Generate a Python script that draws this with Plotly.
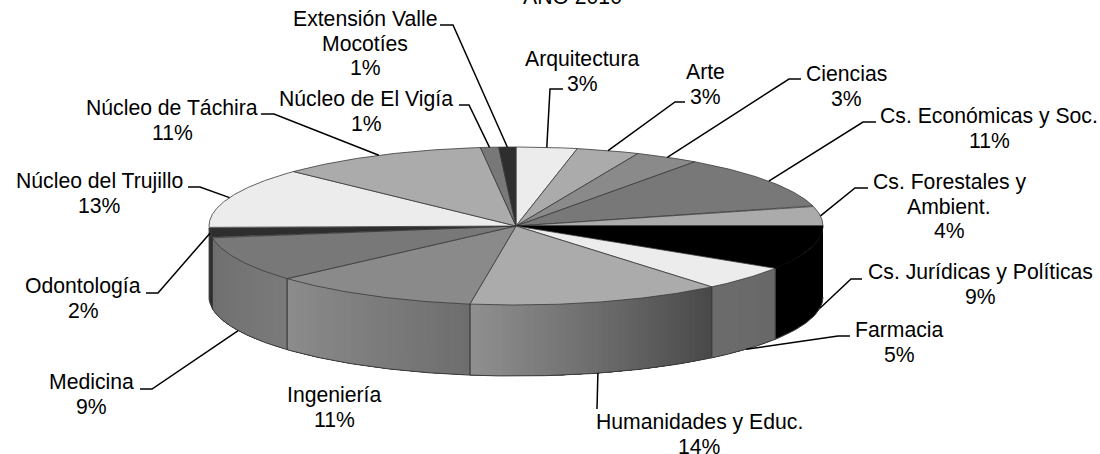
import numpy as np
import plotly.graph_objects as go

# ---- data ----
categories = ["Arquitectura", "Arte", "Ciencias", "Cs. Económicas y Soc.", "Cs. Forestales y Ambient.",
              "Cs. Jurídicas y Políticas", "Farmacia", "Humanidades y Educ.", "Ingeniería", "Medicina",
              "Odontología", "Núcleo del Trujillo", "Núcleo de Táchira", "Núcleo de El Vigía",
              "Extensión Valle Mocotíes"]
values = [3.2, 3.3, 3.4, 11.0, 4.1, 9.0, 5.0, 13.4, 11.0, 9.2, 2.0, 12.5, 11.05, 0.95, 0.9]
percent_labels = ["3%", "3%", "3%", "11%", "4%", "9%", "5%", "14%", "11%", "9%", "2%", "13%", "11%", "1%", "1%"]
label_texts = ["Arquitectura", "Arte", "Ciencias", "Cs. Económicas y Soc.", "Cs. Forestales y|Ambient.",
               "Cs. Jurídicas y Políticas", "Farmacia", "Humanidades y Educ.", "Ingeniería", "Medicina",
               "Odontología", "Núcleo del Trujillo", "Núcleo de Táchira", "Núcleo de El Vigía",
               "Extensión Valle|Mocotíes"]
title_text = "AÑO 2010"

# ---- styles / layout ----
top_colors = ["#ececec", "#ababab", "#8a8a8a", "#787878", "#ababab", "#000000", "#ececec", "#ababab",
              "#8a8a8a", "#787878", "#2e2e2e", "#ececec", "#ababab", "#787878", "#2e2e2e"]
# side gradient, left colour -> right colour on screen
side_grad = {5: (0, 0), 6: (0x6c, 0x68), 7: (0x90, 0x48), 8: (0x8c, 0x6e), 9: (0x6e, 0x7a), 10: (0x2e, 0x2e)}
CX, CY, RX, RY, DEPTH = 516.0, 226.0, 307.0, 79.0, 71.0
EDGE = "#3a3a3a"
LINE_STEP = 24.5
label_pos = [(582, 71), (705, 84), (846, 86), (989, 128), (949, 206), (980, 284), (899, 342), (699, 434),
             (334, 407), (91, 394), (83, 298), (99, 193), (172, 120), (366, 111), (365, 43)]
# horizontal stub of every leader: (outer, inner) points; None = no leader
elbows = [((563, 89), (550, 89)), ((685, 102), (675, 102)), ((801, 79), (789, 79)), ((876, 122), (863, 122)),
          ((868, 188), (855, 188)), ((862, 279), (851, 279)), ((850, 336), (838, 336)), ((597, 409), (597, 409)),
          None, ((140, 389), (152, 389)), ((146, 293), (158, 293)), ((188, 187), (200, 187)),
          ((261, 114), (274, 114)), ((459, 105), (469, 105)), ((440, 25), (453, 25))]
anchor_shift = {5: -8.0}


def rim(t, drop=0.0):
    t = np.radians(t)
    return CX + RX * np.sin(t), CY - RY * np.cos(t) + drop


total = sum(values)
edges = np.concatenate([[0.0], np.cumsum(values)]) * 360.0 / total
fig = go.Figure()


def poly(xs, ys, fill, line=None, width=1.0):
    fig.add_trace(go.Scatter(x=list(xs), y=list(ys), mode="lines", fill="toself", fillcolor=fill,
                             line=dict(color=line or fill, width=width), hoverinfo="skip", showlegend=False))


# sides, front part of the pie only
for i, (c0, c1) in side_grad.items():
    a = max(edges[i], 90.0)
    b = min(edges[i + 1], 270.0)
    steps = 1 if c0 == c1 else max(2, int(b - a))
    grid = np.linspace(a, b, steps + 1)
    for j in range(steps):
        # every band reaches the slice's far end, so that no seam shows between bands
        tt = np.linspace(grid[j], b, 40)
        xt, yt = rim(tt)
        xb, yb = rim(tt[::-1], DEPTH)
        f = (b - 0.5 * (grid[j] + grid[j + 1])) / (b - a)
        g = int(round(c0 + (c1 - c0) * f))
        col = f"rgb({g},{g},{g})"
        fig.add_trace(go.Scatter(x=np.r_[xt, xb, xt[0]], y=np.r_[yt, yb, yt[0]], mode="lines", fill="toself",
                                 fillcolor=col, line=dict(width=0), hoverinfo="skip", showlegend=False))
    tt = np.linspace(a, b, 60)
    xb, yb = rim(tt, DEPTH)
    fig.add_trace(go.Scatter(x=xb, y=yb, mode="lines", line=dict(color=EDGE, width=1),
                             hoverinfo="skip", showlegend=False))
    for e in (a, b):
        if 90.0 < e < 270.0:
            x0, y0 = rim(e)
            x1, y1 = rim(e, DEPTH)
            fig.add_trace(go.Scatter(x=[x0, x1], y=[y0, y1], mode="lines", line=dict(color=EDGE, width=1),
                                     hoverinfo="skip", showlegend=False))

# top faces
for i, col in enumerate(top_colors):
    tt = np.linspace(edges[i], edges[i + 1], max(4, int(values[i] * 8)))
    xs, ys = rim(tt)
    poly(np.r_[CX, xs, CX], np.r_[CY, ys, CY], col, EDGE if col != "#000000" else "#000000", 0.8)

# leaders
shapes = []
for i, el in enumerate(elbows):
    if el is None:
        continue
    mid = 0.5 * (edges[i] + edges[i + 1]) + anchor_shift.get(i, 0.0)
    front = 90.0 < mid < 260.0
    ax, ay = rim(mid, DEPTH if front else 0.0)
    (x0, y0), (x1, y1) = el
    shapes.append(dict(type="path", path=f"M{x0},{y0} L{x1},{y1} L{ax:.1f},{ay:.1f}", xref="x", yref="y",
                       line=dict(color="#000000", width=1.5), fillcolor="rgba(0,0,0,0)"))

FONT = dict(family="Liberation Sans, Arial, sans-serif", size=21.2, color="#000000")
ann = []
for (x, y), txt, pct in zip(label_pos, label_texts, percent_labels):
    lines = txt.split("|") + [pct]
    y0 = y - LINE_STEP * (len(lines) - 1) / 2
    for k, line in enumerate(lines):
        ann.append(dict(x=x, y=y0 + k * LINE_STEP, xref="x", yref="y", text=line, showarrow=False, font=FONT,
                        align="center", xanchor="center", yanchor="middle"))
# the title sits above the page's top edge, so only its lower part shows
ann.append(dict(x=572 / 1100, y=1 + 4 / 454, xref="paper", yref="paper", text=title_text, showarrow=False,
                font=FONT, xanchor="center", yanchor="middle"))

fig.update_layout(
    width=1100, height=454, margin=dict(l=0, r=0, t=0, b=0), paper_bgcolor="white", plot_bgcolor="white",
    xaxis=dict(range=[0, 1100], visible=False, fixedrange=True),
    yaxis=dict(range=[454, 0], visible=False, fixedrange=True),
    showlegend=False, shapes=shapes, annotations=ann,
)
fig.write_html("out.html", config=dict(displayModeBar=False),
               post_script="document.body.style.margin='0';")
